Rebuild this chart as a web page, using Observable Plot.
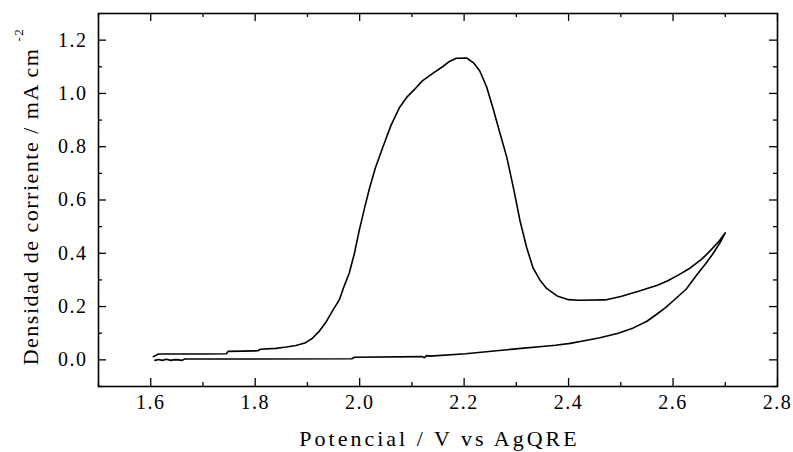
<!DOCTYPE html>
<html><head><meta charset="utf-8">
<script src="https://cdn.jsdelivr.net/npm/d3@7"></script>
<script src="https://cdn.jsdelivr.net/npm/@observablehq/plot@0.6"></script>
<style>
body{margin:0;background:#fff;}
</style></head><body><div id="chart"></div>
<script>
// Barrido anódico (ida)
const idaV = [1.605,1.615,1.650,1.700,1.745,1.748,1.805,1.810,1.840,1.860,1.878,1.895,1.909,1.923,1.935,1.948,1.961,1.970,1.980,1.990,1.999,2.010,2.019,2.030,2.044,2.060,2.076,2.090,2.105,2.120,2.140,2.160,2.172,2.185,2.205,2.218,2.230,2.243,2.255,2.268,2.282,2.295,2.307,2.320,2.332,2.345,2.358,2.378,2.400,2.420,2.470,2.500,2.537,2.570,2.589,2.610,2.633,2.655,2.671,2.688,2.700];
const idaJ = [0.012,0.022,0.022,0.022,0.023,0.032,0.034,0.040,0.043,0.048,0.054,0.063,0.080,0.108,0.140,0.184,0.225,0.275,0.325,0.400,0.484,0.575,0.645,0.720,0.796,0.880,0.946,0.985,1.015,1.047,1.075,1.102,1.120,1.132,1.133,1.115,1.084,1.025,0.946,0.855,0.758,0.640,0.522,0.420,0.345,0.300,0.268,0.240,0.226,0.224,0.225,0.238,0.259,0.280,0.296,0.318,0.345,0.378,0.409,0.445,0.477];
// Barrido de vuelta
const vueltaV = [2.700,2.690,2.677,2.662,2.646,2.625,2.600,2.585,2.570,2.550,2.524,2.495,2.460,2.430,2.403,2.375,2.349,2.309,2.262,2.203,2.135,2.128,2.124,2.120,1.990,1.985,1.700,1.665,1.660,1.650,1.643,1.638,1.630,1.622,1.615,1.608];
const vueltaJ = [0.477,0.440,0.400,0.360,0.320,0.265,0.221,0.195,0.173,0.145,0.120,0.100,0.083,0.072,0.062,0.055,0.050,0.043,0.034,0.023,0.014,0.016,0.008,0.012,0.010,0.004,0.003,0.003,-0.002,0.001,0.000,-0.002,0.002,-0.002,0.001,-0.002];

const xMajor = [1.6,1.8,2.0,2.2,2.4,2.6,2.8];
const xMinor = [1.5,1.7,1.9,2.1,2.3,2.5,2.7];
const yMajor = [0.0,0.2,0.4,0.6,0.8,1.0,1.2];
const yMinor = [-0.1,0.1,0.3,0.5,0.7,0.9,1.1];
const xTitle = "Potencial / V vs AgQRE";
const yTitle = "Densidad de corriente / mA cm";
const yTitleSup = "-2";

const rows = [
  ...idaV.map((v,i)=>({v, j: idaJ[i]})),
  ...vueltaV.map((v,i)=>({v, j: vueltaJ[i]}))
];

const FONT = "Liberation Serif";
const W=793, H=452, mL=98, mR=16, mT=13, mB=66;
const iw=W-mL-mR, ih=H-mT-mB;
const major=8, minor=4;

const chart = Plot.plot({
  width: W, height: H,
  marginLeft: mL, marginRight: mR, marginTop: mT, marginBottom: mB,
  x: {domain: [1.5, 2.8]},
  y: {domain: [-0.1, 1.3]},
  style: {background: "white", color: "black"},
  marks: [
    Plot.ruleX(xMajor, {insetTop: ih-major, stroke: "black", strokeWidth: 1.3}),
    Plot.ruleX(xMajor, {insetBottom: ih-major, stroke: "black", strokeWidth: 1.3}),
    Plot.ruleX(xMinor, {insetTop: ih-minor, stroke: "black", strokeWidth: 1.3}),
    Plot.ruleX(xMinor, {insetBottom: ih-minor, stroke: "black", strokeWidth: 1.3}),
    Plot.ruleY(yMajor, {insetRight: iw-major, stroke: "black", strokeWidth: 1.3}),
    Plot.ruleY(yMajor, {insetLeft: iw-major, stroke: "black", strokeWidth: 1.3}),
    Plot.ruleY(yMinor, {insetRight: iw-minor, stroke: "black", strokeWidth: 1.3}),
    Plot.ruleY(yMinor, {insetLeft: iw-minor, stroke: "black", strokeWidth: 1.3}),
    Plot.frame({stroke: "black", strokeWidth: 1.6}),
    Plot.axisX({ticks: xMajor, tickSize: 0, tickPadding: 8, tickFormat: d3.format(".1f"), label: null, fill: "black", fontSize: 20}),
    Plot.axisY({ticks: yMajor, tickSize: 0, tickPadding: 11, tickFormat: d3.format(".1f"), label: null, fill: "black", fontSize: 20}),
    Plot.line(rows, {x: "v", y: "j", stroke: "black", strokeWidth: 1.6})
  ]
});
document.getElementById("chart").appendChild(chart);

// force the serif face as plain presentation attributes
chart.setAttribute("font-family", FONT);
chart.style.removeProperty("font-family");
chart.querySelectorAll("g, text").forEach(el => {
  if (el.hasAttribute("font-family")) el.setAttribute("font-family", FONT);
});
chart.querySelectorAll("text").forEach(el => {
  el.setAttribute("font-family", FONT);
  el.setAttribute("font-size", "20");
  el.setAttribute("letter-spacing", "1.5");
});

const NS = "http://www.w3.org/2000/svg";
const xt = document.createElementNS(NS, "text");
xt.setAttribute("x", mL + iw/2 + 2); xt.setAttribute("y", 446);
xt.setAttribute("text-anchor", "middle"); xt.setAttribute("fill", "black");
xt.setAttribute("font-family", FONT); xt.setAttribute("font-size", "22");
xt.setAttribute("letter-spacing", "3");
xt.textContent = xTitle;
chart.appendChild(xt);

const yt = document.createElementNS(NS, "text");
yt.setAttribute("transform", `translate(38,${mT + ih/2 - 3}) rotate(-90)`);
yt.setAttribute("text-anchor", "middle"); yt.setAttribute("fill", "black");
yt.setAttribute("font-family", FONT); yt.setAttribute("font-size", "22");
yt.setAttribute("letter-spacing", "1.5");
const t1 = document.createElementNS(NS, "tspan");
t1.textContent = yTitle;
const t2 = document.createElementNS(NS, "tspan");
t2.setAttribute("dx", 6); t2.setAttribute("dy", -15); t2.setAttribute("font-size", "13");
t2.textContent = yTitleSup;
yt.appendChild(t1); yt.appendChild(t2);
chart.appendChild(yt);
</script></body></html>
